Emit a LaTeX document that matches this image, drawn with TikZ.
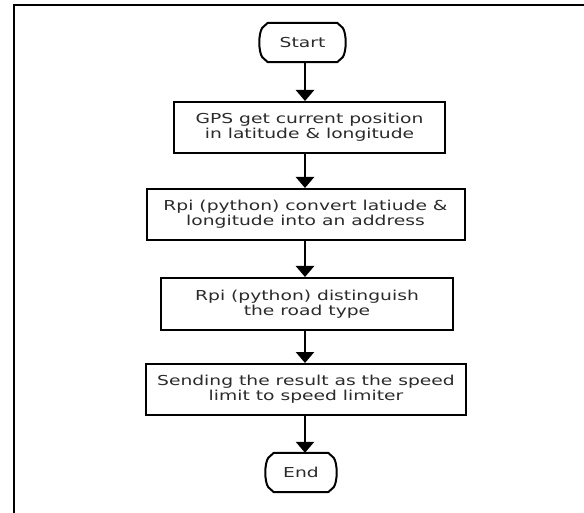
\documentclass[tikz,border=0pt]{standalone}
\usepackage{fontspec}
\setmainfont[FakeStretch=1.365]{DejaVu Sans}
\usetikzlibrary{arrows.meta,calc}
\definecolor{txt}{rgb}{0.17,0.17,0.17}
\tikzset{
  box/.style={draw=black, line width=2pt, inner sep=0pt, align=center, text=txt,
    font=\fontsize{13.7}{15}\selectfont},
  term/.style={inner sep=0pt, align=center, text=txt, font=\fontsize{13.7}{15}\selectfont},
  termline/.style={draw=black, line width=2pt, line join=round},
  arr/.style={draw=black, line width=2.6pt, -{Triangle[width=18pt,length=11pt]}},
  frame/.style={draw=black}
}
\newcommand\termoutline[1]{%
  \draw[termline] ($(#1.north west)+(7,0)$) -- ($(#1.north east)+(-7,0)$)
    -- ($(#1.north east)+(-1.5,-5)$)
    .. controls ($(#1.east)+(2.5,9)$) and ($(#1.east)+(2.5,-9)$) .. ($(#1.south east)+(-1.5,5)$)
    -- ($(#1.south east)+(-7,0)$) -- ($(#1.south west)+(7,0)$)
    -- ($(#1.south west)+(1.5,5)$)
    .. controls ($(#1.west)+(-2.5,-9)$) and ($(#1.west)+(-2.5,9)$) .. ($(#1.north west)+(1.5,-5)$)
    -- cycle;}
\begin{document}
\begin{tikzpicture}[x=1pt,y=1pt]
  \useasboundingbox[fill=white] (0,0) rectangle (584,-513);
  % frame
  \coordinate (fl) at (14,-513);
  \coordinate (ftl) at (14,-5.5);
  \coordinate (fr) at (584,-5.5);
  \draw[frame, line width=2.8pt] (fl) -- (ftl);
  \draw[frame, line width=2pt] ($(ftl)+(-1.4,0)$) -- (fr);
  % nodes
  \node[term, minimum width=83pt, minimum height=39pt] (start) at (302.5,-42.5) {Start};
  \termoutline{start}
  \node[box, minimum width=271pt, minimum height=51pt] (b1) at (309.5,-127.5)
    {GPS get current position\\in latitude \& longitude};
  \node[box, minimum width=318pt, minimum height=51pt] (b2) at (305.5,-214.5)
    {Rpi (python) convert latiude \&\\longitude into an address};
  \node[box, minimum width=292pt, minimum height=52pt] (b3) at (307,-304)
    {Rpi (python) distinguish\\the road type};
  \node[box, minimum width=320pt, minimum height=51pt] (b4) at (306,-389.5)
    {Sending the result as the speed\\limit to speed limiter};
  \node[term, minimum width=68pt, minimum height=39pt] (end) at (301,-472.5) {End};
  \termoutline{end}
  % connectors
  \coordinate (ax) at (305,0);
  \draw[arr] (start.south -| ax) -- (b1.north -| ax);
  \draw[arr] (b1.south -| ax) -- (b2.north -| ax);
  \draw[arr] (b2.south -| ax) -- (b3.north -| ax);
  \draw[arr] (b3.south -| ax) -- (b4.north -| ax);
  \draw[arr] (b4.south -| ax) -- (end.north -| ax);
\end{tikzpicture}
\end{document}
